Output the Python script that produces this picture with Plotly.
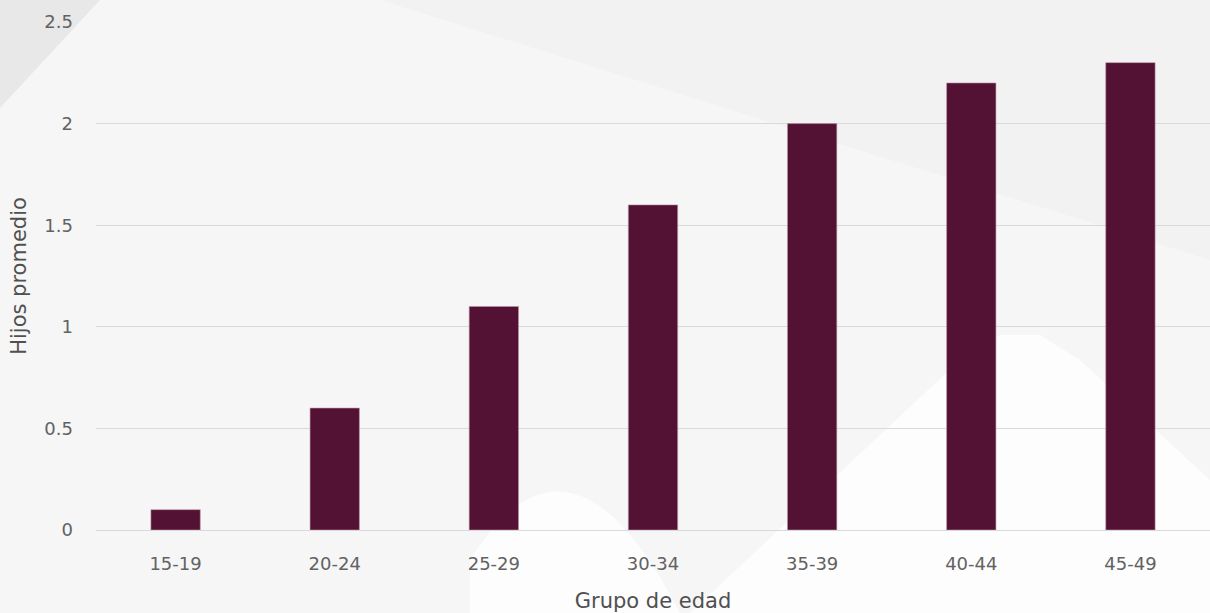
import plotly.graph_objects as go

categories = ["15-19", "20-24", "25-29", "30-34", "35-39", "40-44", "45-49"]
hijos_promedio = [0.1, 0.6, 1.1, 1.6, 2.0, 2.2, 2.3]
y_ticks = [0, 0.5, 1, 1.5, 2, 2.5]
y_tick_labels = ["0", "0.5", "1", "1.5", "2", "2.5"]

W, H = 1210, 613
ML, MR, MT, MB = 96, 0, 22, 83
PW, PH = W - ML - MR, H - MT - MB


def px(x, y):
    """convert page pixel to paper coordinates (for decorative background)"""
    return (x - ML) / PW, (H - MB - y) / PH


def path(points):
    s = ""
    for i, (x, y) in enumerate(points):
        a, b = px(x, y)
        s += ("M" if i == 0 else " L") + f" {a:.4f} {b:.4f}"
    return s + " Z"


def bump(x0, y0, cx, cy, x1, y1, yb):
    a0, b0 = px(x0, y0)
    ac, bc = px(cx, cy)
    a1, b1 = px(x1, y1)
    _, bb = px(0, yb)
    return f"M {a0:.4f} {bb:.4f} L {a0:.4f} {b0:.4f} Q {ac:.4f} {bc:.4f} {a1:.4f} {b1:.4f} L {a1:.4f} {bb:.4f} Z"


shapes = [
    dict(type="path", xref="paper", yref="paper", layer="below",
         path=path([(380, 0), (1210, 0), (1210, 260)]),
         fillcolor="#f2f2f2", line=dict(width=0)),
    dict(type="path", xref="paper", yref="paper", layer="below",
         path=path([(0, 0), (100, 0), (0, 108)]),
         fillcolor="#e8e8e8", line=dict(width=0)),
    dict(type="path", xref="paper", yref="paper", layer="below",
         path=bump(470, 560, 570, 400, 680, 613, 613),
         fillcolor="#fdfdfd", line=dict(width=0)),
    dict(type="path", xref="paper", yref="paper", layer="below",
         path=path([(690, 613), (960, 360), (1000, 335), (1040, 335), (1080, 360), (1210, 480), (1210, 613)]),
         fillcolor="#fdfdfd", line=dict(width=0)),
]

fig = go.Figure()
fig.add_trace(go.Bar(
    x=categories,
    y=hijos_promedio,
    marker=dict(color="#531133", line=dict(color="#b895a5", width=0.6)),
    width=0.31,
    hoverinfo="x+y",
))

tick_font = dict(family="DejaVu Sans, Verdana, sans-serif", size=18, color="#626262")
title_font = dict(family="DejaVu Sans, Verdana, sans-serif", size=21, color="#505050")

fig.update_layout(
    width=W, height=H,
    margin=dict(l=ML, r=MR, t=MT, b=MB),
    paper_bgcolor="#f6f6f6",
    plot_bgcolor="rgba(0,0,0,0)",
    font=tick_font,
    showlegend=False,
    shapes=shapes,
    xaxis=dict(
        title=dict(text="Grupo de edad", font=title_font, standoff=21),
        showgrid=False, showline=False, ticks="", tickfont=tick_font,
        ticklabelstandoff=21,
        range=[-0.5, 6.5],
        fixedrange=True,
    ),
    yaxis=dict(
        title=dict(text="Hijos promedio", font=title_font, standoff=12),
        range=[0, 2.5], tickvals=y_ticks, ticktext=y_tick_labels,
        showgrid=True, gridcolor="#d9d9d9", gridwidth=1.3,
        zeroline=True, zerolinecolor="#d9d9d9", zerolinewidth=1.3,
        showline=False, ticks="", ticklabelstandoff=22,
        tickfont=tick_font,
        fixedrange=True,
    ),
)

fig.write_html("out.html", config={"displayModeBar": False},
               post_script="document.body.style.margin='0';")
